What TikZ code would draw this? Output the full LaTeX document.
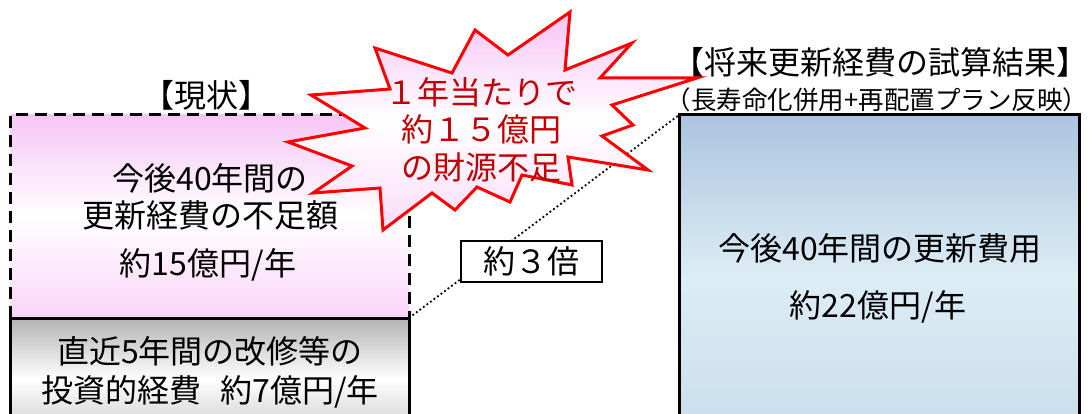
\documentclass[tikz,border=0pt]{standalone}
\usepackage{fontspec}
\setmainfont{Noto Sans CJK JP}
\usetikzlibrary{positioning}
\definecolor{shortpink}{RGB}{246,198,246}
\definecolor{shortpinkb}{RGB}{250,212,248}
\definecolor{futureblue}{RGB}{172,196,224}
\definecolor{futurepale}{RGB}{221,237,245}
\definecolor{futurebot}{RGB}{200,220,236}
\definecolor{burstpink}{RGB}{248,196,246}
\definecolor{burstred}{RGB}{255,0,0}
\definecolor{bursttext}{RGB}{192,0,0}
\tikzset{
  bigtext/.style={font=\fontsize{32}{37}\selectfont, align=center, inner sep=0pt},
  subtext/.style={font=\fontsize{25.5}{30}\selectfont, inner sep=0pt},
  costbox/.style={line width=3pt, inner sep=0pt, outer sep=0pt},
}
\begin{document}
\begin{tikzpicture}[x=1pt,y=-1pt]
\useasboundingbox (0,0) rectangle (1089,414);
\clip (0,0) rectangle (1089,414);
\node[costbox, minimum width=399pt, minimum height=203pt, top color=shortpink, bottom color=shortpinkb, middle color=white] (shortfall) at (209.5,216.5) {};
\draw[line width=3pt, dash pattern=on 12pt off 7pt] (shortfall.south west) -- (shortfall.north west) -- (shortfall.north east) -- (shortfall.south east);
\node[costbox, draw, minimum width=399pt, minimum height=122pt, top color=gray!60, bottom color=gray!45, middle color=white] (recent) at (209.5,379) {};
\node[costbox, draw, minimum width=400pt, minimum height=325pt, top color=futureblue, bottom color=futurebot, middle color=futurepale] (future) at (879,277.5) {};
\node[bigtext] (nowtitle) at (206,95) {【現状】};
\node[bigtext] (shortlabel) at (210,197) {今後40年間の\\更新経費の不足額};
\node[bigtext] (shortvalue) at (208,265) {約15億円/年};
\node[bigtext, font=\fontsize{32}{39}\selectfont] (recentlabel) at (210,372.5) {直近5年間の改修等の\\投資的経費\hspace{0.6em}約7億円/年};
\node[bigtext] (futuretitle) at (880,62) {【将来更新経費の試算結果】};
\node[subtext] (futurenote) at (877,100) {（長寿命化併用+再配置プラン反映）};
\node[bigtext] (futurelabel) at (880,248) {今後40年間の更新費用};
\node[bigtext] (futurevalue) at (878,307) {約22億円/年};
\draw[line width=1.8pt, dash pattern=on 1.8pt off 2.6pt] (shortfall.south east) -- (future.north west);
\node[bigtext, draw, line width=1.5pt, fill=white, minimum width=141pt, minimum height=41pt] (ratio) at (531.5,261.5) {約３倍};
\path[draw=burstred, line width=3pt, line join=miter, top color=burstpink, bottom color=burstpink!60, middle color=white]
  (375,48) -- (452,73) -- (475,30) -- (508,55) -- (570,12) -- (565,70) -- (632,43) -- (600,78)
  -- (697,78) -- (612,105) -- (633,125) -- (602,136) -- (648,170) -- (568,157) -- (572,185)
  -- (522,175) -- (510,202) -- (477,187) -- (455,210) -- (432,193) -- (383,230) -- (380,188)
  -- (313,193) -- (352,166) -- (288,142) -- (365,128) -- (311,95) -- (390,89) -- cycle;
\node[bigtext, font=\fontsize{32}{37.5}\selectfont, text=bursttext] (burst) at (481,129.5) {１年当たりで\\約１５億円\\の財源不足};
\end{tikzpicture}
\end{document}
